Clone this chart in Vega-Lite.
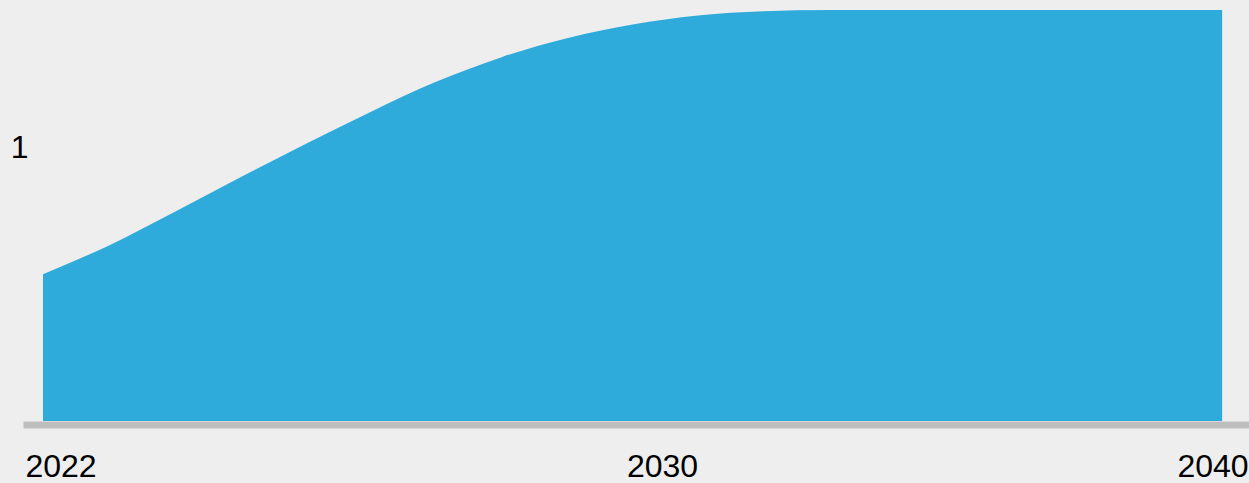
{
  "$schema": "https://vega.github.io/schema/vega-lite/v6.json",
  "width": 1226,
  "height": 411,
  "autosize": {"type": "none"},
  "padding": {"left": 23, "top": 10, "right": 0, "bottom": 62},
  "background": "#eeeeee",
  "config": {"view": {"stroke": null}},
  "data": {
    "values": [
      {"year": 2022, "value": 0.536},
      {"year": 2023, "value": 0.640},
      {"year": 2024, "value": 0.762},
      {"year": 2025, "value": 0.888},
      {"year": 2026, "value": 1.010},
      {"year": 2027, "value": 1.128},
      {"year": 2028, "value": 1.238},
      {"year": 2029, "value": 1.328},
      {"year": 2030, "value": 1.397},
      {"year": 2031, "value": 1.447},
      {"year": 2032, "value": 1.480},
      {"year": 2033, "value": 1.495},
      {"year": 2034, "value": 1.5},
      {"year": 2035, "value": 1.5},
      {"year": 2036, "value": 1.5},
      {"year": 2037, "value": 1.5},
      {"year": 2038, "value": 1.5},
      {"year": 2039, "value": 1.5},
      {"year": 2040, "value": 1.5}
    ]
  },
  "mark": {"type": "area", "interpolate": "monotone", "color": "#2fabdb"},
  "encoding": {
    "x": {
      "field": "year",
      "type": "quantitative",
      "scale": {"domain": [2021.695, 2040.41], "nice": false, "zero": false},
      "axis": {
        "title": null,
        "values": [2022, 2030, 2040],
        "format": "d",
        "grid": false,
        "ticks": false,
        "tickSize": 0,
        "domain": true,
        "domainColor": "#bebebe",
        "domainWidth": 7,
        "offset": 3.5,
        "labelFont": "Liberation Sans",
        "labelFontSize": 32,
        "labelColor": "#000000",
        "labelBaseline": "alphabetic",
        "labelPadding": 51.5,
        "labelOverlap": false,
        "labelFlush": false,
        "labelBound": false,
        "labelAlign": {
          "condition": [
            {"test": "datum.value == 2022", "value": "left"},
            {"test": "datum.value == 2040", "value": "right"}
          ],
          "value": "center"
        },
        "labelOffset": {
          "condition": [
            {"test": "datum.value == 2022", "value": -18},
            {"test": "datum.value == 2040", "value": 26}
          ],
          "value": 95
        }
      }
    },
    "y": {
      "field": "value",
      "type": "quantitative",
      "scale": {"domain": [0, 1.5], "nice": false},
      "axis": {
        "title": null,
        "values": [1],
        "grid": false,
        "ticks": false,
        "tickSize": 0,
        "domain": false,
        "offset": -5,
        "labelPadding": 0,
        "labelFont": "Liberation Sans",
        "labelFontSize": 32,
        "labelColor": "#000000",
        "labelBaseline": "middle"
      }
    }
  }
}
